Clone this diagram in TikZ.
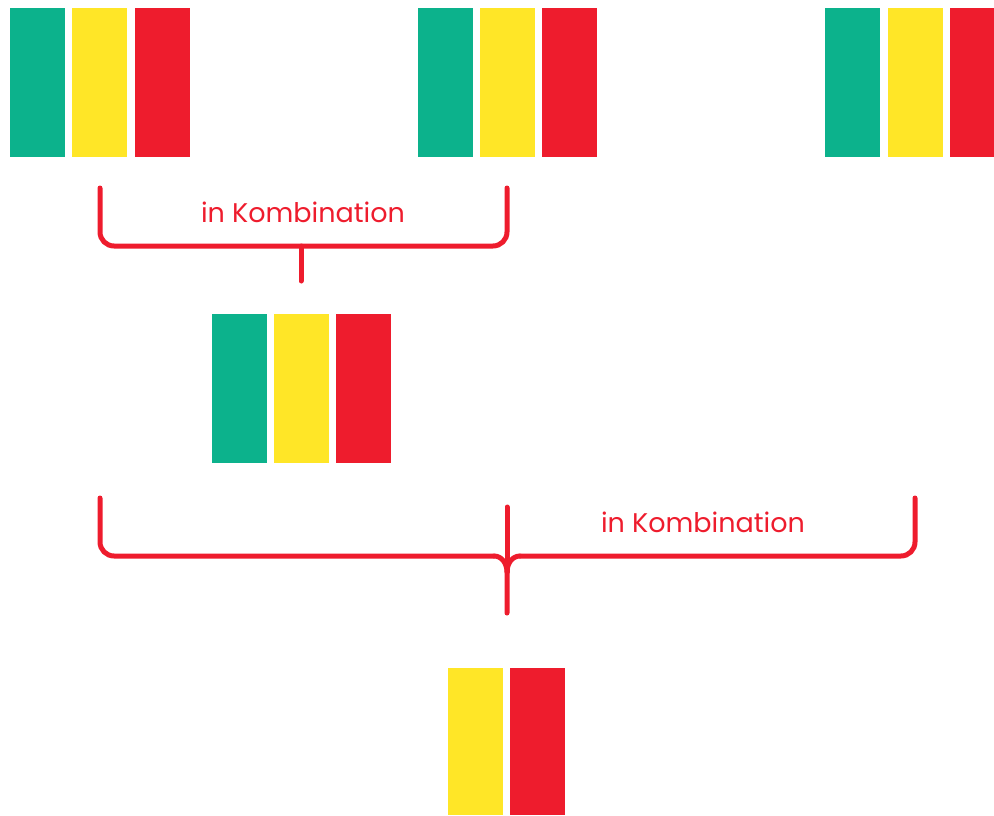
\documentclass[tikz,border=0pt]{standalone}
\usepackage{fontspec}
\setmainfont{Poppins}
\definecolor{bgreen}{HTML}{0CB28C}
\definecolor{byellow}{HTML}{FFE627}
\definecolor{bred}{HTML}{EE1C2D}
\begin{document}
\begin{tikzpicture}[x=1pt,y=-1pt,
  bar/.style={draw=none,inner sep=0pt,outer sep=0pt,minimum width=55pt,minimum height=149pt,anchor=north west},
  brace/.style={draw=bred,line width=5pt,line cap=round,line join=round},
  lbl/.style={text=bred,font=\fontsize{27}{30}\selectfont,inner sep=0pt}]
\useasboundingbox (0,0) rectangle (994,815);
% top row
\node[bar,fill=bgreen] (g1) at (10,8) {};
\node[bar,fill=byellow] (y1) at (72,8) {};
\node[bar,fill=bred] (r1) at (135,8) {};
\node[bar,fill=bgreen] (g2) at (418,8) {};
\node[bar,fill=byellow] (y2) at (480,8) {};
\node[bar,fill=bred] (r2) at (542,8) {};
\node[bar,fill=bgreen] (g3) at (825,8) {};
\node[bar,fill=byellow] (y3) at (888,8) {};
\node[bar,fill=bred] (r3) at (950,8) {};
% middle
\node[bar,fill=bgreen] (g4) at (212,314) {};
\node[bar,fill=byellow] (y4) at (274,314) {};
\node[bar,fill=bred] (r4) at (336,314) {};
% bottom
\node[bar,fill=byellow,minimum height=147pt] (y5) at (448,668) {};
\node[bar,fill=bred,minimum height=147pt] (r5) at (510,668) {};
% bracket 1
\draw[brace,rounded corners=14pt] (100,188) -- (100,246) -- (507,246) -- (507,188);
\draw[brace] (301,246) -- (301,281);
\node[lbl] (t1) at (303,212) {in Kombination};
% bracket 2
\draw[brace,rounded corners=14pt] (100,498) -- (100,556) -- (494,556);
\draw[brace] (494,556) to[out=0,in=90] (507,572) -- (507,613);
\draw[brace,rounded corners=14pt] (915,498) -- (915,556) -- (520,556);
\draw[brace] (520,556) to[out=180,in=90] (507,572);
\draw[brace] (507,507) -- (507,572);
\node[lbl] (t2) at (703,522) {in Kombination};
\end{tikzpicture}
\end{document}
